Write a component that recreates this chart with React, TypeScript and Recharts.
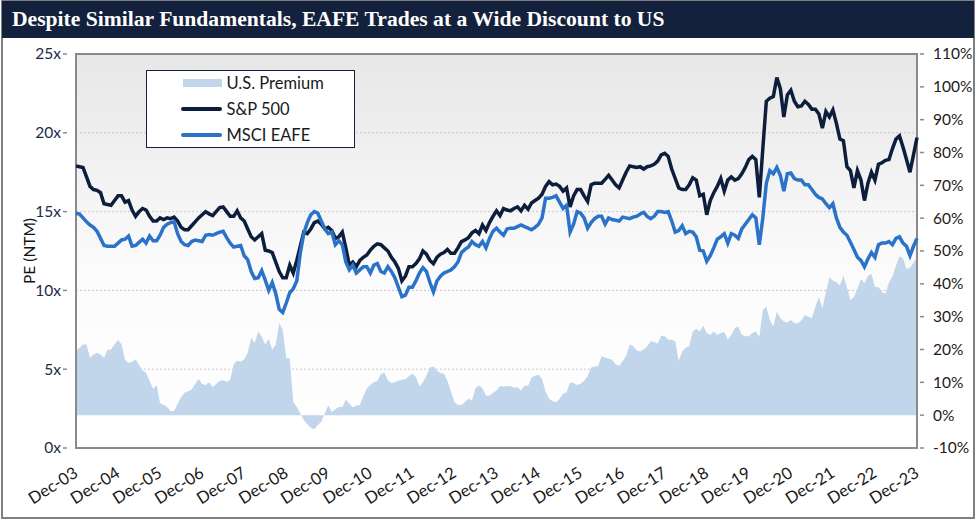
import React from 'react'
import { ComposedChart, Area, Line, XAxis, YAxis, CartesianGrid, Legend, ReferenceArea } from 'recharts'

const TITLE = 'Despite Similar Fundamentals, EAFE Trades at a Wide Discount to US'
const FONT = 'Lato, "Noto Sans", sans-serif'

const MONTHS = ['Jan', 'Feb', 'Mar', 'Apr', 'May', 'Jun', 'Jul', 'Aug', 'Sep', 'Oct', 'Nov', 'Dec']
// monthly observations, Dec-03 .. Dec-23
const DATES = Array.from({ length: 241 }, (_, i) => {
  const k = 11 + i
  return `${MONTHS[k % 12]}-${String((3 + Math.floor(k / 12)) % 100).padStart(2, '0')}`
})
const X_TICKS = DATES.map((d, i) => (d.startsWith('Dec') ? i : -1)).filter((i) => i >= 0)
const LEFT_TICKS = [0, 5, 10, 15, 20, 25]
const RIGHT_TICKS = [-10, 0, 10, 20, 30, 40, 50, 60, 70, 80, 90, 100, 110]

// forward PE (x)
const SP500 = [
  17.9, 17.85, 17.8, 17.2, 16.6, 16.4, 16.35, 16.2, 15.5, 15.45, 15.4, 15.7,
  16.0, 16.0, 15.6, 15.7, 15.1, 14.7, 15.0, 15.2, 15.1, 14.7, 14.4, 14.4,
  14.6, 14.5, 14.6, 14.55, 14.65, 14.4, 14.0, 13.85, 13.85, 14.1, 14.35, 14.6,
  14.8, 15.0, 14.85, 14.75, 15.0, 15.25, 15.3, 15.0, 14.7, 14.7, 15.05, 14.6,
  14.4, 13.9, 13.4, 13.2, 13.4, 13.6, 12.55, 12.5, 12.4, 11.8, 11.2, 10.8,
  10.8, 11.6, 11.1, 11.9, 12.8, 13.7, 13.6, 13.9, 14.3, 14.4, 14.2, 13.9,
  14.0, 13.8, 13.3, 13.4, 13.7, 12.7, 11.6, 11.8, 11.5, 11.9, 12.1, 12.25,
  12.55, 12.8, 12.95, 12.9, 12.7, 12.5, 12.1, 11.8, 11.4, 10.6, 10.9, 11.5,
  11.5, 11.7, 12.0, 12.5, 12.3, 11.9, 11.7, 12.1, 12.3, 12.4, 12.6, 12.35,
  12.35, 12.7, 13.1, 13.2, 13.35, 13.65, 13.8, 13.6, 14.15, 13.8, 14.3, 14.7,
  15.05, 14.75, 15.2, 15.1, 15.05, 15.2, 15.3, 15.05, 15.4, 15.15, 15.55, 15.7,
  15.85, 16.1, 16.6, 16.9, 16.7, 16.75, 16.6, 16.3, 16.5, 15.3, 16.0, 16.4,
  16.4, 16.0, 15.65, 16.7, 16.8, 16.8, 16.8, 17.05, 17.3, 17.0, 16.7, 16.5,
  17.0, 17.5, 17.9, 17.85, 17.8, 17.85, 17.7, 17.85, 17.9, 18.0, 18.2, 18.6,
  18.7, 18.5, 17.7, 17.1, 16.5, 16.4, 16.4, 16.7, 17.15, 17.0, 16.0, 16.1,
  14.8, 15.7, 16.2, 16.6, 17.1, 16.3, 17.0, 17.2, 17.0, 17.1, 17.4, 17.8,
  18.3, 18.5, 18.3, 15.9, 19.0, 22.0, 22.2, 22.3, 23.5, 22.8, 21.0, 22.4,
  22.7, 22.0, 21.65, 21.7, 22.0, 21.8, 21.5, 21.5, 21.2, 20.3, 21.35, 21.0,
  21.45, 20.6, 19.6, 19.5, 17.85, 17.6, 16.5, 17.6, 17.0, 15.7, 16.8, 17.5,
  17.0, 18.0, 18.1, 18.25, 18.3, 19.0, 19.6, 19.8, 19.1, 18.3, 17.5, 18.6,
  19.7,
]

const EAFE = [
  14.9, 14.85, 14.6, 14.35, 14.15, 14.0, 13.75, 13.3, 12.85, 12.8, 12.8, 12.8,
  13.0, 13.2, 13.25, 13.45, 12.8, 12.85, 13.05, 13.25, 13.0, 13.45, 13.15, 13.15,
  13.5, 14.0, 14.2, 14.3, 14.35, 13.6, 13.1, 12.9, 12.85, 13.1, 13.2, 13.15,
  13.1, 13.5, 13.55, 13.5, 13.6, 13.7, 13.75, 13.35, 13.0, 12.75, 12.8, 12.85,
  12.2, 11.95, 11.2, 10.75, 10.8, 11.25, 10.65, 10.0, 10.5, 9.8, 8.8, 8.6,
  9.2, 9.85, 10.1, 10.6, 12.35, 13.6, 14.3, 14.8, 15.0, 14.9, 14.4, 13.9,
  13.6, 13.7, 12.9, 13.15, 12.9, 11.8, 11.3, 11.6, 11.1, 11.3, 11.5, 11.5,
  11.1, 11.6, 11.7, 11.2, 11.1, 11.5, 11.2, 10.8, 10.2, 9.6, 9.7, 10.2,
  10.2, 10.6, 11.1, 11.45, 11.2, 10.5, 9.9, 10.6, 10.9, 11.1, 11.2, 11.3,
  11.5, 11.8, 12.4, 12.6, 12.75, 13.1, 12.9, 12.8, 13.1, 12.7, 13.3, 13.75,
  13.95, 13.7, 13.5, 13.9, 13.95, 13.95, 14.05, 14.15, 14.05, 13.95, 13.85, 14.0,
  14.2, 14.6, 15.85, 15.85, 15.9, 16.0, 15.6, 15.2, 15.4, 13.7, 14.2, 15.0,
  14.9, 14.6, 13.95, 14.3, 14.55, 14.7, 14.7, 14.2, 14.6, 14.5, 14.45, 14.4,
  14.65, 14.6, 14.55, 14.65, 14.7, 14.85, 14.95, 14.7, 14.55, 14.7, 15.0, 15.0,
  14.95, 15.0, 14.4, 13.7, 13.8, 14.1, 13.6, 13.75, 13.7, 13.4, 12.55, 12.5,
  11.85, 12.2, 12.7, 13.25, 13.4, 13.6, 13.0, 13.6, 13.5, 13.3, 13.9, 14.2,
  14.5, 14.8, 14.6, 12.9, 14.6, 16.8, 17.6, 17.4, 17.8, 17.3, 16.3, 17.4,
  17.45, 17.1, 17.0, 17.0, 16.7, 16.7, 16.4, 16.1, 15.9, 15.8, 15.5, 15.25,
  15.5, 14.6, 14.0, 13.7, 13.5, 13.05, 12.6, 12.1, 11.9, 11.5, 12.0, 12.4,
  12.1, 12.9, 13.0, 13.0, 13.1, 12.9, 13.3, 13.4, 13.0, 12.8, 12.2, 12.8,
  13.3,
]

// US premium over EAFE (%)
const PREMIUM = [
  19.5, 20.5, 21.5, 21.5, 17.5, 18.5, 19.0, 18.5, 17.5, 19.9, 20.0, 21.5,
  22.9, 21.5, 16.8, 16.0, 16.2, 17.0, 15.3, 13.6, 12.9, 10.5, 8.0, 9.2,
  3.6, 3.2, 2.5, 1.2, 1.3, 3.5, 5.5, 6.8, 7.3, 7.8, 9.5, 11.0,
  9.5, 9.2, 10.0, 8.6, 9.5, 10.5, 10.6, 10.2, 10.7, 15.5, 16.6, 16.3,
  17.0, 19.0, 23.5, 22.0, 25.5, 23.9, 21.5, 23.2, 19.9, 21.5, 28.0, 26.0,
  17.3, 17.3, 4.0, 2.6, 0.5, -1.5, -2.8, -3.8, -4.3, -3.0, -2.0, 0.5,
  3.0, 1.0, 1.8, 2.5, 2.5, 4.8, 3.5, 2.3, 3.0, 3.0, 5.8, 8.2,
  9.2, 10.0, 10.5, 12.5, 13.0, 10.6, 9.8, 10.0, 10.5, 10.8, 11.0, 11.9,
  12.6, 11.6, 8.8, 10.0, 12.0, 14.5, 14.8, 13.5, 12.8, 12.7, 10.5, 7.2,
  4.0, 3.1, 3.1, 4.0, 5.0, 4.5, 8.2, 9.0, 8.2, 6.0, 6.0, 6.8,
  7.5, 8.9, 8.7, 8.9, 8.8, 8.4, 8.5, 7.5, 9.0, 8.9, 11.5, 12.0,
  12.3, 11.0, 7.2, 5.0, 4.3, 3.9, 5.0, 6.6, 7.0, 10.0, 9.8, 9.2,
  9.6, 10.5, 11.8, 14.5, 14.8, 15.0, 18.0, 17.5, 17.2, 16.9, 15.5, 15.0,
  16.5, 18.0, 21.5, 21.0, 19.8, 19.4, 20.0, 21.0, 22.5, 22.3, 21.8, 24.2,
  24.0, 23.0, 23.0, 22.5, 16.5, 19.5, 20.5, 21.0, 25.5, 26.3, 25.5, 27.2,
  25.0, 24.5, 25.5, 24.5, 25.0, 25.3, 23.0, 24.5, 26.5, 27.0, 24.5, 24.0,
  24.0, 25.0, 25.5, 23.9, 32.0, 33.0, 29.0, 27.0, 31.5, 29.5, 28.5, 28.2,
  29.0, 28.0, 28.0, 28.8, 30.5, 30.0, 29.5, 33.0, 36.0, 32.6, 37.5, 42.0,
  41.0, 40.5, 39.5, 42.5, 39.0, 35.0, 36.0, 38.5, 41.5, 40.2, 42.5, 43.0,
  39.0, 39.0, 37.5, 37.0, 40.5, 42.2, 45.5, 48.3, 47.8, 44.5, 45.0, 46.5,
  48.0,
]

const SERIES = [
  { key: 'premium', name: 'U.S. Premium', color: '#c2d6eb', kind: 'area' },
  { key: 'sp', name: 'S&P 500', color: '#0d1e3c', kind: 'line' },
  { key: 'eafe', name: 'MSCI EAFE', color: '#2b73c9', kind: 'line' },
]

const data = DATES.map((date, i) => ({
  i,
  date,
  premium: PREMIUM[i],
  sp: SP500[i],
  eafe: EAFE[i],
}))

const NAVY = '#14213d'
const AXIS_GREY = '#8a8a8a'

const LeftTick = ({ x, y, payload }: any) => (
  <g>
    <line x1={x - 13} x2={x - 9} y1={y} y2={y} stroke={AXIS_GREY} strokeWidth={1.5} />
    <text x={x - 15} y={y} dy="0.35em" textAnchor="end" fontSize={15.5} fill="#1c2b4a" fontFamily={FONT}>
      {payload.value}x
    </text>
  </g>
)

const RightTick = ({ x, y, payload }: any) => (
  <g>
    <line x1={x + 3} x2={x + 7} y1={y} y2={y} stroke={AXIS_GREY} strokeWidth={1.5} />
    <text x={x + 16} y={y} dy="0.35em" textAnchor="start" fontSize={15.5} fill="#1a1a1a" fontFamily={FONT}>
      {payload.value}%
    </text>
  </g>
)

const BottomTick = ({ x, y, payload }: any) => (
  <g transform={`translate(${x + 3},${y + 20})`}>
    <text transform="rotate(-32)" textAnchor="end" fontSize={16.5} fill="#1a1a1a" fontFamily={FONT}>
      {DATES[payload.value]}
    </text>
  </g>
)

const LegendBox = () => (
  <div
    style={{
      position: 'relative',
      width: 209,
      height: 78,
      boxSizing: 'border-box',
      border: `1.5px solid ${NAVY}`,
      background: '#fff',
      fontFamily: FONT,
      fontSize: 16.5,
      color: '#1a1a1a',
    }}
  >
    {SERIES.map((s, k) => (
      <div key={s.key} style={{ position: 'absolute', left: 0, top: 1 + k * 26, height: 22, width: 206 }}>
        {s.kind === 'area' ? (
          <div style={{ position: 'absolute', left: 35.5, top: 7, width: 39, height: 8, background: s.color }} />
        ) : (
          <div style={{ position: 'absolute', left: 33.5, top: 9, width: 41, height: 4, borderRadius: 2, background: s.color }} />
        )}
        <span style={{ position: 'absolute', left: 79.5, top: 0, lineHeight: '22px', whiteSpace: 'nowrap' }}>{s.name}</span>
      </div>
    ))}
  </div>
)

const YLabel = ({ viewBox }: any) => {
  const cx = viewBox.x + 14
  const cy = viewBox.y + viewBox.height / 2
  return (
    <text x={cx} y={cy} transform={`rotate(-90, ${cx}, ${cy})`} textAnchor="middle" dy="0.35em" fontSize={15.5} fill="#111" fontFamily={FONT}>
      PE (NTM)
    </text>
  )
}

export default function App() {
  return (
    <div style={{ position: 'absolute', left: 0, top: 0, width: 980, height: 522, background: '#fff', overflow: 'hidden' }}>
      <div
        style={{
          position: 'absolute',
          left: 1,
          top: 0,
          width: 974,
          height: 519,
          boxSizing: 'border-box',
          border: '2px solid #808080',
        }}
      />
      <div
        style={{
          position: 'absolute',
          left: 2,
          top: 1,
          width: 972,
          height: 37,
          background: NAVY,
          color: '#fff',
          fontFamily: '"Liberation Serif", serif',
          fontWeight: 'bold',
          fontSize: 21.6,
          lineHeight: '37px',
          paddingLeft: 10,
          boxSizing: 'border-box',
          whiteSpace: 'nowrap',
        }}
      >
        {TITLE}
      </div>
      <div style={{ position: 'absolute', left: 0, top: 0 }}>
        <ComposedChart width={980} height={522} data={data} margin={{ top: 54, right: 3, bottom: 14, left: 16 }}>
          <defs>
            <linearGradient id="plotBg" x1="0" y1="0" x2="0" y2="1">
              <stop offset="0%" stopColor="#e7e7e7" />
              <stop offset="55%" stopColor="#fbfbfb" />
              <stop offset="100%" stopColor="#ffffff" />
            </linearGradient>
          </defs>
          <CartesianGrid yAxisId="left" vertical={false} fill="url(#plotBg)" stroke="#c9c9c9" strokeDasharray="2 2" />
          <XAxis
            dataKey="i"
            type="number"
            domain={[0, 240]}
            ticks={X_TICKS}
            tick={<BottomTick />}
            tickLine={false}
            axisLine={false}
            height={60}
            interval={0}
          />
          <YAxis
            yAxisId="left"
            domain={[0, 25]}
            ticks={LEFT_TICKS}
            tick={<LeftTick />}
            tickLine={false}
            tickSize={0}
            tickMargin={0}
            axisLine={false}
            width={60}
            label={<YLabel />}
          />
          <YAxis
            yAxisId="right"
            orientation="right"
            domain={[-10, 110]}
            ticks={RIGHT_TICKS}
            tick={<RightTick />}
            tickLine={false}
            tickSize={0}
            tickMargin={0}
            axisLine={false}
            width={60}
          />
          <Area
            yAxisId="right"
            type="linear"
            dataKey="premium"
            name={SERIES[0].name}
            fill={SERIES[0].color}
            fillOpacity={1}
            stroke="none"
            isAnimationActive={false}
          />
          <Line
            yAxisId="left"
            type="linear"
            dataKey="sp"
            name={SERIES[1].name}
            stroke={SERIES[1].color}
            strokeWidth={3.5}
            dot={false}
            isAnimationActive={false}
          />
          <Line
            yAxisId="left"
            type="linear"
            dataKey="eafe"
            name={SERIES[2].name}
            stroke={SERIES[2].color}
            strokeWidth={3.5}
            dot={false}
            isAnimationActive={false}
          />
          <ReferenceArea
            yAxisId="left"
            x1={0}
            x2={240}
            y1={0}
            y2={25}
            fill="none"
            stroke={AXIS_GREY}
            strokeWidth={2}
            ifOverflow="visible"
          />
          <Legend
            layout="vertical"
            verticalAlign="middle"
            align="center"
            content={<LegendBox />}
            wrapperStyle={{ left: 146, top: 70, width: 209, height: 78 }}
          />
        </ComposedChart>
      </div>
    </div>
  )
}
